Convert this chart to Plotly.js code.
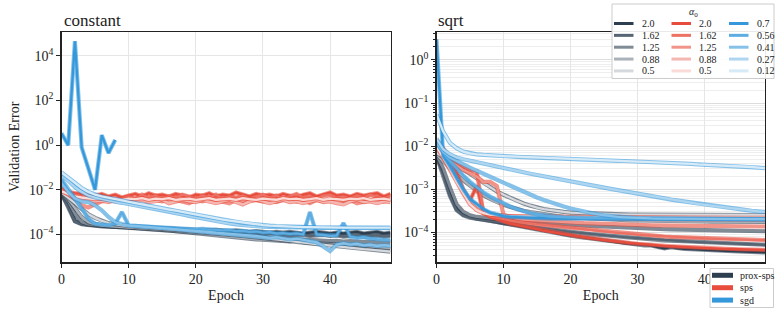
<!DOCTYPE html>
<html><head><meta charset="utf-8">
<script src="https://cdn.plot.ly/plotly-3.0.1.min.js"></script>
<style>html,body{margin:0;padding:0;background:#fff}#chart{width:779px;height:312px}</style>
</head><body><div id="chart"></div>
<script>
// ---------------- data ----------------
const epochs = [0,1,2,3,4,5,6,7,8,9,10,11,12,13,14,15,16,17,18,19,20,21,22,23,24,25,26,27,28,29,30,31,32,33,34,35,36,37,38,39,40,41,42,43,44,45,46,47,48,49];
const methodNames = ['prox-sps','sps','sgd'];
const alphasProx = ['2.0','1.62','1.25','0.88','0.5'];
const alphasSps = ['2.0','1.62','1.25','0.88','0.5'];
const alphasSgd = ['0.7','0.56','0.41','0.27','0.12'];
const panelTitles = ['constant','sqrt'];
const xTickVals = [0,10,20,30,40];
const yTickValsLeft = [1e-4,1e-2,1,1e2,1e4];
const yTickTextLeft = ['10<sup>−4</sup>','10<sup>−2</sup>','10<sup>0</sup>','10<sup>2</sup>','10<sup>4</sup>'];
const yTickValsRight = [1e-4,1e-3,1e-2,1e-1,1];
const yTickTextRight = ['10<sup>−4</sup>','10<sup>−3</sup>','10<sup>−2</sup>','10<sup>−1</sup>','10<sup>0</sup>'];

// constant schedule
const c_prox_20 = [6.5e-3,2.0e-3,4.0e-4,3.0e-4,2.7e-4,2.5e-4,2.4e-4,2.3e-4,2.2e-4,2.2e-4,
 2.1e-4,2.1e-4,2.0e-4,2.0e-4,1.9e-4,1.9e-4,1.8e-4,1.8e-4,1.7e-4,1.7e-4,
 1.6e-4,1.6e-4,1.5e-4,1.6e-4,1.5e-4,1.4e-4,1.5e-4,1.4e-4,1.3e-4,1.4e-4,
 1.3e-4,1.2e-4,1.3e-4,1.2e-4,1.3e-4,1.2e-4,1.1e-4,1.2e-4,1.3e-4,1.2e-4,
 1.1e-4,1.2e-4,1.1e-4,1.2e-4,1.3e-4,1.1e-4,1.2e-4,1.3e-4,1.1e-4,1.2e-4];
const c_prox_162 = [6.8e-3,1.8e-3,3.8e-4,2.9e-4,2.6e-4,2.4e-4,2.3e-4,2.2e-4,2.2e-4,2.1e-4,
 2.0e-4,2.0e-4,1.9e-4,1.9e-4,1.8e-4,1.7e-4,1.7e-4,1.6e-4,1.6e-4,1.5e-4,
 1.4e-4,1.5e-4,1.4e-4,1.3e-4,1.3e-4,1.2e-4,1.2e-4,1.1e-4,1.2e-4,1.1e-4,
 1.0e-4,1.1e-4,1.0e-4,9.5e-5,1.0e-4,9.0e-5,9.5e-5,8.5e-5,9.0e-5,9.5e-5,
 8.5e-5,9.0e-5,8.0e-5,8.5e-5,9.0e-5,8.0e-5,8.5e-5,9.0e-5,8.0e-5,8.5e-5];
const c_prox_125 = [7.0e-3,3.0e-3,8.0e-4,3.5e-4,2.8e-4,2.5e-4,2.4e-4,2.3e-4,2.2e-4,2.1e-4,
 2.0e-4,1.9e-4,1.9e-4,1.8e-4,1.7e-4,1.6e-4,1.5e-4,1.5e-4,1.4e-4,1.3e-4,
 1.2e-4,1.2e-4,1.1e-4,1.05e-4,1.0e-4,9.5e-5,9.0e-5,8.5e-5,8.0e-5,7.8e-5,
 7.5e-5,7.0e-5,6.8e-5,6.5e-5,7.0e-5,6.0e-5,5.8e-5,5.5e-5,5.7e-5,5.3e-5,
 5.0e-5,5.2e-5,4.8e-5,5.0e-5,4.7e-5,4.5e-5,4.8e-5,4.4e-5,4.6e-5,4.3e-5];
const c_prox_088 = [7.2e-3,3.8e-3,1.5e-3,6.0e-4,3.5e-4,2.8e-4,2.5e-4,2.4e-4,2.3e-4,2.2e-4,
 2.1e-4,2.0e-4,1.9e-4,1.8e-4,1.7e-4,1.6e-4,1.5e-4,1.4e-4,1.3e-4,1.2e-4,
 1.1e-4,1.0e-4,9.5e-5,9.0e-5,8.5e-5,7.8e-5,7.5e-5,7.0e-5,6.5e-5,6.0e-5,
 5.8e-5,5.5e-5,5.2e-5,5.0e-5,4.8e-5,5.5e-5,4.5e-5,4.2e-5,4.0e-5,3.8e-5,
 3.6e-5,3.5e-5,3.3e-5,3.2e-5,3.1e-5,3.0e-5,2.8e-5,2.7e-5,2.6e-5,2.5e-5];
const c_prox_05 = [7.5e-3,4.5e-3,2.5e-3,1.4e-3,8.0e-4,5.5e-4,4.0e-4,3.2e-4,2.8e-4,2.5e-4,
 2.3e-4,2.2e-4,2.1e-4,2.0e-4,1.9e-4,1.8e-4,1.7e-4,1.6e-4,1.5e-4,1.4e-4,
 1.3e-4,1.2e-4,1.15e-4,1.1e-4,1.0e-4,9.5e-5,9.0e-5,8.5e-5,8.0e-5,7.5e-5,
 7.0e-5,6.5e-5,6.0e-5,5.5e-5,5.0e-5,4.6e-5,4.3e-5,4.0e-5,3.7e-5,3.4e-5,
 3.2e-5,3.0e-5,2.8e-5,2.6e-5,2.4e-5,2.2e-5,2.1e-5,2.0e-5,1.8e-5,1.7e-5];

const c_sps_20 = [1.1e-2,8.0e-3,7.0e-3,6.5e-3,6.0e-3,5.5e-3,6.5e-3,5.0e-3,6.0e-3,4.5e-3,
 5.5e-3,6.5e-3,5.0e-3,7.0e-3,5.5e-3,6.0e-3,5.0e-3,6.5e-3,5.5e-3,4.5e-3,
 6.0e-3,5.5e-3,7.0e-3,5.0e-3,6.0e-3,5.5e-3,7.5e-3,6.0e-3,5.0e-3,6.5e-3,
 5.5e-3,6.0e-3,5.0e-3,6.5e-3,5.5e-3,4.5e-3,6.0e-3,7.0e-3,5.0e-3,6.0e-3,
 7.5e-3,5.5e-3,6.0e-3,5.0e-3,6.5e-3,5.5e-3,6.0e-3,7.0e-3,5.0e-3,6.5e-3];
const c_sps_162 = [1.2e-2,7.0e-3,6.0e-3,5.0e-3,5.5e-3,4.0e-3,5.0e-3,4.5e-3,3.5e-3,4.0e-3,
 5.0e-3,4.0e-3,6.0e-3,4.5e-3,5.5e-3,4.0e-3,5.0e-3,4.5e-3,6.0e-3,5.0e-3,
 4.0e-3,5.5e-3,4.5e-3,6.0e-3,4.0e-3,5.0e-3,4.5e-3,5.5e-3,4.0e-3,5.0e-3,
 6.0e-3,4.5e-3,5.5e-3,4.0e-3,5.0e-3,6.5e-3,4.5e-3,5.0e-3,4.0e-3,5.5e-3,
 6.0e-3,4.5e-3,5.0e-3,4.0e-3,5.5e-3,4.5e-3,6.0e-3,5.0e-3,4.0e-3,5.5e-3];
const c_sps_125 = [1.0e-2,6.0e-3,4.0e-3,2.0e-3,1.6e-3,2.2e-3,3.0e-3,3.5e-3,3.0e-3,3.5e-3,
 2.8e-3,3.5e-3,4.0e-3,3.0e-3,3.5e-3,3.0e-3,4.0e-3,3.5e-3,3.0e-3,2.5e-3,
 3.5e-3,3.0e-3,4.0e-3,3.5e-3,3.0e-3,2.5e-3,3.5e-3,3.0e-3,4.0e-3,3.5e-3,
 3.0e-3,3.5e-3,2.8e-3,3.5e-3,4.0e-3,3.0e-3,3.5e-3,2.5e-3,3.5e-3,3.0e-3,
 3.5e-3,4.0e-3,3.0e-3,3.5e-3,2.5e-3,3.0e-3,3.5e-3,4.0e-3,3.0e-3,3.5e-3];
const c_sps_088 = [9.0e-3,6.0e-3,4.5e-3,3.5e-3,3.5e-3,3.0e-3,3.2e-3,2.8e-3,3.5e-3,3.0e-3,
 2.5e-3,3.0e-3,3.5e-3,2.8e-3,3.0e-3,3.5e-3,2.5e-3,3.0e-3,3.5e-3,3.0e-3,
 2.8e-3,3.5e-3,3.0e-3,2.5e-3,3.0e-3,3.5e-3,2.8e-3,2.2e-3,3.0e-3,3.5e-3,
 3.0e-3,2.5e-3,3.0e-3,3.5e-3,2.8e-3,3.0e-3,2.5e-3,3.0e-3,3.5e-3,2.8e-3,
 3.0e-3,2.5e-3,2.2e-3,3.0e-3,3.5e-3,2.8e-3,3.0e-3,2.5e-3,3.0e-3,2.8e-3];
const c_sps_05 = [8.5e-3,6.5e-3,5.0e-3,4.5e-3,4.0e-3,3.8e-3,4.0e-3,3.5e-3,4.0e-3,3.5e-3,
 4.0e-3,3.8e-3,4.2e-3,3.5e-3,4.0e-3,3.8e-3,4.2e-3,3.5e-3,3.8e-3,4.0e-3,
 3.5e-3,3.8e-3,4.2e-3,3.5e-3,3.8e-3,4.0e-3,3.5e-3,4.2e-3,3.8e-3,3.5e-3,
 4.0e-3,3.8e-3,3.5e-3,4.2e-3,3.8e-3,4.0e-3,3.5e-3,3.8e-3,4.2e-3,3.5e-3,
 4.0e-3,3.8e-3,3.5e-3,4.0e-3,3.8e-3,4.2e-3,3.5e-3,3.8e-3,4.0e-3,3.5e-3];

const c_sgd_07 = [3.4,1.0,4.5e4,0.8,0.09,0.01,2.8,0.44,1.7,null,
 null,null,null,null,null,null,null,null,null,null,
 null,null,null,null,null,null,null,null,null,null,
 null,null,null,null,null,null,null,null,null,null,
 null,null,null,null,null,null,null,null,null,null];
const c_sgd_056 = [3.0e-2,1.0e-2,4.0e-3,1.5e-3,5.0e-4,3.0e-4,2.8e-4,2.6e-4,3.0e-4,1.0e-3,
 2.5e-4,2.4e-4,2.3e-4,2.2e-4,2.1e-4,2.0e-4,1.9e-4,1.95e-4,1.8e-4,1.8e-4,
 1.7e-4,1.75e-4,1.6e-4,1.6e-4,1.5e-4,1.55e-4,1.4e-4,1.45e-4,1.3e-4,1.35e-4,
 1.2e-4,1.25e-4,1.1e-4,1.15e-4,1.05e-4,1.1e-4,1.0e-4,1.0e-3,1.0e-4,9.5e-5,
 8.5e-5,9.0e-5,3.2e-4,8.0e-5,7.0e-5,7.5e-5,6.5e-5,6.0e-5,5.5e-5,5.5e-5];
const c_sgd_041 = [2.0e-2,8.0e-3,4.0e-3,3.0e-3,2.8e-3,2.0e-3,1.2e-3,6.0e-4,3.5e-4,2.8e-4,
 2.5e-4,2.4e-4,2.3e-4,2.1e-4,2.0e-4,1.9e-4,1.8e-4,1.75e-4,1.6e-4,1.5e-4,
 1.45e-4,1.35e-4,1.3e-4,1.2e-4,1.15e-4,1.1e-4,1.0e-4,9.5e-5,9.0e-5,8.5e-5,
 8.0e-5,7.0e-5,7.5e-5,6.5e-5,6.0e-5,6.5e-5,5.5e-5,5.0e-5,4.5e-5,3.0e-5,
 1.8e-5,3.5e-5,4.0e-5,3.5e-5,3.8e-5,3.2e-5,3.5e-5,3.0e-5,3.3e-5,3.0e-5];
const c_sgd_027 = [5.0e-2,2.5e-2,1.3e-2,8.0e-3,5.5e-3,4.5e-3,3.8e-3,3.3e-3,2.9e-3,2.6e-3,
 2.3e-3,2.0e-3,1.8e-3,1.6e-3,1.4e-3,1.2e-3,1.05e-3,9.0e-4,7.8e-4,6.7e-4,
 5.8e-4,5.0e-4,4.4e-4,3.9e-4,3.5e-4,3.1e-4,2.8e-4,2.6e-4,2.4e-4,2.3e-4,
 2.2e-4,2.15e-4,2.1e-4,2.05e-4,2.0e-4,2.0e-4,2.0e-4,2.0e-4,1.95e-4,1.95e-4,
 1.95e-4,1.95e-4,1.9e-4,1.9e-4,1.9e-4,1.9e-4,1.9e-4,1.9e-4,1.9e-4,1.9e-4];
const c_sgd_012 = [6.0e-2,3.5e-2,2.0e-2,1.2e-2,8.0e-3,6.0e-3,5.0e-3,4.3e-3,3.8e-3,3.3e-3,
 2.9e-3,2.5e-3,2.2e-3,1.9e-3,1.7e-3,1.5e-3,1.3e-3,1.15e-3,1.0e-3,8.8e-4,
 7.7e-4,6.7e-4,5.9e-4,5.2e-4,4.6e-4,4.1e-4,3.7e-4,3.3e-4,3.0e-4,2.8e-4,
 2.6e-4,2.45e-4,2.35e-4,2.25e-4,2.2e-4,2.15e-4,2.1e-4,2.1e-4,2.05e-4,2.05e-4,
 2.05e-4,2.05e-4,2.0e-4,2.0e-4,2.0e-4,2.0e-4,2.0e-4,2.0e-4,2.0e-4,2.0e-4];

// sqrt schedule
const s_prox_20 = [6.0e-3,2.5e-3,8.0e-4,3.5e-4,2.6e-4,2.3e-4,2.1e-4,2.0e-4,1.9e-4,1.8e-4,
 1.65e-4,1.55e-4,1.45e-4,1.35e-4,1.25e-4,1.15e-4,1.1e-4,1.05e-4,9.5e-5,9.0e-5,
 8.5e-5,8.0e-5,7.6e-5,7.2e-5,6.8e-5,6.5e-5,6.2e-5,5.9e-5,5.6e-5,5.4e-5,
 5.2e-5,5.0e-5,5.0e-5,4.6e-5,4.3e-5,4.6e-5,4.3e-5,4.2e-5,4.1e-5,4.0e-5,
 3.9e-5,3.85e-5,3.8e-5,3.75e-5,3.7e-5,3.65e-5,3.6e-5,3.55e-5,3.5e-5,3.45e-5];
const s_prox_162 = [6.0e-3,2.2e-3,7.0e-4,3.3e-4,2.5e-4,2.2e-4,2.05e-4,1.95e-4,1.85e-4,1.75e-4,
 1.65e-4,1.55e-4,1.5e-4,1.42e-4,1.35e-4,1.28e-4,1.22e-4,1.18e-4,1.12e-4,1.08e-4,
 1.03e-4,9.9e-5,9.5e-5,9.2e-5,8.9e-5,8.6e-5,8.3e-5,8.0e-5,7.8e-5,7.6e-5,
 7.4e-5,7.2e-5,7.0e-5,6.8e-5,6.6e-5,6.5e-5,6.4e-5,6.2e-5,6.1e-5,6.0e-5,
 5.9e-5,5.8e-5,5.7e-5,5.6e-5,5.5e-5,5.45e-5,5.4e-5,5.3e-5,5.25e-5,5.2e-5];
const s_prox_125 = [6.2e-3,3.0e-3,1.1e-3,4.5e-4,3.0e-4,2.5e-4,2.3e-4,2.2e-4,2.1e-4,2.0e-4,
 1.95e-4,1.9e-4,1.85e-4,1.8e-4,1.75e-4,1.7e-4,1.66e-4,1.62e-4,1.58e-4,1.55e-4,
 1.52e-4,1.49e-4,1.46e-4,1.43e-4,1.4e-4,1.37e-4,1.34e-4,1.32e-4,1.3e-4,1.28e-4,
 1.26e-4,1.24e-4,1.22e-4,1.2e-4,1.19e-4,1.18e-4,1.17e-4,1.16e-4,1.15e-4,1.14e-4,
 1.13e-4,1.12e-4,1.11e-4,1.1e-4,1.1e-4,1.09e-4,1.08e-4,1.08e-4,1.07e-4,1.07e-4];
const s_prox_088 = [6.5e-3,4.5e-3,3.0e-3,2.2e-3,1.6e-3,1.2e-3,9.0e-4,7.2e-4,6.0e-4,5.0e-4,
 4.4e-4,3.9e-4,3.5e-4,3.2e-4,3.0e-4,2.8e-4,2.65e-4,2.5e-4,2.4e-4,2.3e-4,
 2.25e-4,2.2e-4,2.15e-4,2.1e-4,2.05e-4,2.0e-4,2.0e-4,1.95e-4,1.95e-4,1.9e-4,
 1.9e-4,1.88e-4,1.86e-4,1.85e-4,1.84e-4,1.83e-4,1.82e-4,1.81e-4,1.8e-4,1.8e-4,
 1.8e-4,1.79e-4,1.79e-4,1.78e-4,1.78e-4,1.78e-4,1.77e-4,1.77e-4,1.76e-4,1.76e-4];
const s_prox_05 = [7.0e-3,5.5e-3,4.5e-3,3.6e-3,2.9e-3,2.3e-3,1.8e-3,1.4e-3,1.1e-3,9.0e-4,
 7.5e-4,6.3e-4,5.4e-4,4.7e-4,4.2e-4,3.8e-4,3.5e-4,3.3e-4,3.1e-4,3.0e-4,
 2.9e-4,2.85e-4,2.8e-4,2.75e-4,2.7e-4,2.7e-4,2.65e-4,2.65e-4,2.6e-4,2.6e-4,
 2.6e-4,2.6e-4,2.6e-4,2.6e-4,2.6e-4,2.6e-4,2.58e-4,2.58e-4,2.58e-4,2.58e-4,
 2.56e-4,2.56e-4,2.56e-4,2.56e-4,2.55e-4,2.55e-4,2.55e-4,2.55e-4,2.55e-4,2.55e-4];

const s_sps_20 = [1.4e-2,9.0e-3,5.0e-3,2.5e-3,1.0e-3,5.5e-4,1.2e-3,2.9e-4,2.3e-4,2.0e-4,
 1.8e-4,1.6e-4,1.5e-4,1.4e-4,1.3e-4,1.2e-4,1.1e-4,1.05e-4,9.8e-5,9.2e-5,
 8.7e-5,8.2e-5,7.8e-5,7.4e-5,7.0e-5,6.7e-5,6.4e-5,6.1e-5,5.9e-5,5.7e-5,
 5.5e-5,5.3e-5,5.2e-5,5.0e-5,4.9e-5,4.8e-5,4.7e-5,4.6e-5,4.5e-5,4.4e-5,
 4.35e-5,4.3e-5,4.25e-5,4.2e-5,4.15e-5,4.1e-5,4.05e-5,4.0e-5,4.0e-5,3.95e-5];
const s_sps_162 = [1.3e-2,8.0e-3,5.5e-3,4.5e-3,3.5e-3,2.8e-3,2.6e-3,2.8e-4,2.4e-4,2.2e-4,
 2.0e-4,1.9e-4,1.8e-4,1.7e-4,1.6e-4,1.55e-4,1.5e-4,1.45e-4,1.4e-4,1.35e-4,
 1.3e-4,1.25e-4,1.2e-4,1.15e-4,1.1e-4,1.06e-4,1.02e-4,9.8e-5,9.5e-5,9.2e-5,
 8.9e-5,8.7e-5,8.5e-5,8.3e-5,8.1e-5,7.9e-5,7.8e-5,7.6e-5,7.5e-5,7.4e-5,
 7.3e-5,7.2e-5,7.1e-5,7.0e-5,6.9e-5,6.9e-5,6.8e-5,6.8e-5,6.7e-5,6.7e-5];
const s_sps_125 = [1.2e-2,7.0e-3,4.5e-3,3.5e-3,2.8e-3,2.4e-3,2.0e-3,1.5e-3,1.5e-3,1.2e-3,
 2.6e-4,2.3e-4,2.1e-4,2.0e-4,1.95e-4,1.9e-4,1.85e-4,1.8e-4,1.75e-4,1.72e-4,
 1.7e-4,1.68e-4,1.65e-4,1.63e-4,1.6e-4,1.58e-4,1.56e-4,1.54e-4,1.52e-4,1.5e-4,
 1.49e-4,1.48e-4,1.47e-4,1.46e-4,1.45e-4,1.44e-4,1.43e-4,1.42e-4,1.42e-4,1.41e-4,
 1.41e-4,1.4e-4,1.4e-4,1.4e-4,1.39e-4,1.39e-4,1.39e-4,1.38e-4,1.38e-4,1.38e-4];
const s_sps_088 = [1.1e-2,6.0e-3,3.5e-3,1.8e-3,9.0e-4,5.0e-4,3.5e-4,3.0e-4,2.7e-4,2.5e-4,
 2.4e-4,2.35e-4,2.3e-4,2.3e-4,2.25e-4,2.25e-4,2.2e-4,2.2e-4,2.2e-4,2.2e-4,
 2.15e-4,2.15e-4,2.15e-4,2.12e-4,2.12e-4,2.1e-4,2.1e-4,2.1e-4,2.08e-4,2.08e-4,
 2.06e-4,2.06e-4,2.05e-4,2.05e-4,2.04e-4,2.04e-4,2.03e-4,2.03e-4,2.02e-4,2.02e-4,
 2.01e-4,2.01e-4,2.0e-4,2.0e-4,2.0e-4,1.99e-4,1.99e-4,1.98e-4,1.98e-4,1.98e-4];
const s_sps_05 = [1.0e-2,5.5e-3,3.0e-3,1.5e-3,8.0e-4,4.5e-4,3.3e-4,2.8e-4,2.6e-4,2.5e-4,
 2.45e-4,2.4e-4,2.4e-4,2.38e-4,2.36e-4,2.35e-4,2.34e-4,2.33e-4,2.32e-4,2.31e-4,
 2.3e-4,2.3e-4,2.29e-4,2.28e-4,2.28e-4,2.27e-4,2.27e-4,2.26e-4,2.26e-4,2.25e-4,
 2.25e-4,2.25e-4,2.24e-4,2.24e-4,2.24e-4,2.23e-4,2.23e-4,2.23e-4,2.22e-4,2.22e-4,
 2.22e-4,2.22e-4,2.21e-4,2.21e-4,2.21e-4,2.21e-4,2.2e-4,2.2e-4,2.2e-4,2.2e-4];

const s_sgd_07 = [3.0,6.0e-3,3.5e-3,1.8e-3,1.0e-3,6.0e-4,4.5e-4,3.5e-4,2.9e-4,2.6e-4,
 2.4e-4,2.3e-4,2.25e-4,2.2e-4,2.2e-4,2.15e-4,2.15e-4,2.1e-4,2.1e-4,2.1e-4,
 2.1e-4,2.1e-4,2.08e-4,2.08e-4,2.08e-4,2.07e-4,2.07e-4,2.07e-4,2.06e-4,2.06e-4,
 2.06e-4,2.06e-4,2.05e-4,2.05e-4,2.05e-4,2.05e-4,2.05e-4,2.04e-4,2.04e-4,2.04e-4,
 2.04e-4,2.04e-4,2.03e-4,2.03e-4,2.03e-4,2.03e-4,2.03e-4,2.02e-4,2.02e-4,2.02e-4];
const s_sgd_056 = [1.3e-2,7.0e-3,4.5e-3,3.0e-3,2.1e-3,1.5e-3,1.1e-3,8.5e-4,6.8e-4,5.6e-4,
 4.7e-4,4.0e-4,3.5e-4,3.1e-4,2.8e-4,2.6e-4,2.45e-4,2.35e-4,2.3e-4,2.25e-4,
 2.2e-4,2.18e-4,2.16e-4,2.15e-4,2.14e-4,2.13e-4,2.12e-4,2.11e-4,2.1e-4,2.1e-4,
 2.09e-4,2.09e-4,2.08e-4,2.08e-4,2.07e-4,2.07e-4,2.07e-4,2.06e-4,2.06e-4,2.06e-4,
 2.05e-4,2.05e-4,2.05e-4,2.05e-4,2.04e-4,2.04e-4,2.04e-4,2.04e-4,2.03e-4,2.03e-4];
const s_sgd_041 = [1.2e-2,7.5e-3,5.5e-3,4.5e-3,3.8e-3,3.2e-3,2.7e-3,2.3e-3,1.95e-3,1.65e-3,
 1.4e-3,1.2e-3,1.0e-3,8.7e-4,7.5e-4,6.5e-4,5.7e-4,5.0e-4,4.4e-4,4.0e-4,
 3.6e-4,3.3e-4,3.0e-4,2.8e-4,2.65e-4,2.5e-4,2.4e-4,2.3e-4,2.25e-4,2.2e-4,
 2.15e-4,2.13e-4,2.12e-4,2.11e-4,2.1e-4,2.1e-4,2.09e-4,2.09e-4,2.08e-4,2.08e-4,
 2.08e-4,2.07e-4,2.07e-4,2.07e-4,2.06e-4,2.06e-4,2.06e-4,2.05e-4,2.05e-4,2.05e-4];
const s_sgd_027 = [1.5e-2,8.5e-3,6.5e-3,5.5e-3,5.0e-3,4.6e-3,4.3e-3,4.0e-3,3.7e-3,3.4e-3,
 3.1e-3,2.9e-3,2.7e-3,2.5e-3,2.3e-3,2.15e-3,2.0e-3,1.85e-3,1.75e-3,1.65e-3,
 1.55e-3,1.45e-3,1.35e-3,1.26e-3,1.18e-3,1.1e-3,1.03e-3,9.6e-4,9.0e-4,8.5e-4,
 8.0e-4,7.5e-4,7.0e-4,6.6e-4,6.2e-4,5.8e-4,5.5e-4,5.2e-4,4.9e-4,4.6e-4,
 4.4e-4,4.2e-4,4.0e-4,3.8e-4,3.6e-4,3.5e-4,3.35e-4,3.2e-4,3.1e-4,3.0e-4];
const s_sgd_012 = [5.5e-2,2.2e-2,1.2e-2,9.0e-3,7.5e-3,6.8e-3,6.5e-3,6.3e-3,6.1e-3,6.0e-3,
 5.9e-3,5.8e-3,5.7e-3,5.6e-3,5.5e-3,5.45e-3,5.4e-3,5.3e-3,5.25e-3,5.2e-3,
 5.1e-3,5.0e-3,4.95e-3,4.9e-3,4.8e-3,4.75e-3,4.7e-3,4.6e-3,4.55e-3,4.5e-3,
 4.4e-3,4.35e-3,4.3e-3,4.2e-3,4.15e-3,4.1e-3,4.0e-3,3.95e-3,3.9e-3,3.8e-3,
 3.75e-3,3.7e-3,3.6e-3,3.55e-3,3.5e-3,3.4e-3,3.35e-3,3.3e-3,3.2e-3,3.1e-3];

// ---------------- styling ----------------
const proxShades = ['#2c3e50','#566573','#808b96','#abb2b9','#d5d8dc'];
const spsShades  = ['#e74c3c','#ec7063','#f1948a','#f5b7b1','#fadbd8'];
const sgdShades  = ['#3498db','#5dade2','#85c1e9','#aed6f1','#d6eaf8'];
const edgeColors = ['rgba(44,62,80,0.6)','rgba(231,76,60,0.6)','rgba(52,152,219,0.6)'];

const panels = [
  {ax:['x','y'], series:[[c_prox_20,c_prox_162,c_prox_125,c_prox_088,c_prox_05],
                         [c_sps_20,c_sps_162,c_sps_125,c_sps_088,c_sps_05],
                         [c_sgd_07,c_sgd_056,c_sgd_041,c_sgd_027,c_sgd_012]]},
  {ax:['x2','y2'], series:[[s_prox_20,s_prox_162,s_prox_125,s_prox_088,s_prox_05],
                          [s_sps_20,s_sps_162,s_sps_125,s_sps_088,s_sps_05],
                          [s_sgd_07,s_sgd_056,s_sgd_041,s_sgd_027,s_sgd_012]]}
];
const shadeSets = [proxShades, spsShades, sgdShades];
const alphaSets = [alphasProx, alphasSps, alphasSgd];

const traces = [];
panels.forEach(p => {
  p.series.forEach((group, m) => {
    group.forEach((ys, i) => {
      const common = {type:'scatter', mode:'lines', x:epochs, y:ys, xaxis:p.ax[0], yaxis:p.ax[1],
        showlegend:false, hoverinfo:'skip', connectgaps:false};
      traces.push(Object.assign({}, common, {line:{color:edgeColors[m], width:4.2}}));
      traces.push(Object.assign({}, common, {name:methodNames[m]+' '+alphaSets[m][i],
        line:{color:shadeSets[m][i], width:2.3}}));
    });
  });
});

const W = 779, H = 312;
const px = v => v / W, py = v => 1 - v / H;
const FONT = 'Liberation Serif';
const TXT = '#222222';
const f = size => ({family:FONT, size:size, color:TXT});

const shapes = [], annotations = [];
[[61.5, panelTitles[0]], [436.5, panelTitles[1]]].forEach(([x, t]) => {
  annotations.push({xref:'paper', yref:'paper', x:px(x), y:py(20), xanchor:'left', yanchor:'middle',
    text:t, showarrow:false, font:f(17)});
});
shapes.push({type:'rect', xref:'paper', yref:'paper', x0:px(612), x1:px(774), y0:py(78.5), y1:py(4),
  fillcolor:'rgba(255,255,255,0.9)', line:{color:'#cccccc', width:1}, layer:'above'});
annotations.push({xref:'paper', yref:'paper', x:px(693), y:py(12.5), xanchor:'center', yanchor:'middle',
  text:'<i>α</i><sub>0</sub>', showarrow:false, font:f(10)});
const colX = [614, 671.5, 729];
shadeSets.forEach((shades, c) => {
  shades.forEach((col, r) => {
    const y = 23.5 + r * 11.85;
    shapes.push({type:'line', xref:'paper', yref:'paper', x0:px(colX[c]), x1:px(colX[c] + 19.5),
      y0:py(y), y1:py(y), line:{color:col, width:3}});
    annotations.push({xref:'paper', yref:'paper', x:px(colX[c] + 25.5), y:py(y), xanchor:'left', yanchor:'middle',
      text:alphaSets[c][r], showarrow:false, font:f(10)});
  });
});
shapes.push({type:'rect', xref:'paper', yref:'paper', x0:px(710), x1:px(773.5), y0:py(307.5), y1:py(268.5),
  fillcolor:'rgba(255,255,255,0.9)', line:{color:'#cccccc', width:1}, layer:'above'});
methodNames.forEach((nm, r) => {
  const y = 275.3 + r * 12.4;
  shapes.push({type:'line', xref:'paper', yref:'paper', x0:px(712), x1:px(733), y0:py(y), y1:py(y),
    line:{color:shadeSets[r][0], width:5}});
  annotations.push({xref:'paper', yref:'paper', x:px(738), y:py(y), xanchor:'left', yanchor:'middle',
    text:nm, showarrow:false, font:f(10)});
});

const axisBase = {showline:true, mirror:true, linecolor:'#222', linewidth:1.2, ticks:'outside', ticklen:4,
  tickcolor:'#222', zeroline:false, automargin:false};
const xBase = Object.assign({}, axisBase, {range:[0,49], tickmode:'array', tickvals:xTickVals, showgrid:true,
  gridcolor:'#e6e6e6', title:{text:'Epoch', font:f(14), standoff:4}});

const layout = {
  width:W, height:H, margin:{l:0,r:0,t:0,b:0}, paper_bgcolor:'#fff', plot_bgcolor:'#fff',
  showlegend:false,
  xaxis: Object.assign({}, xBase, {domain:[px(61.5), px(390.5)], anchor:'y', tickfont:f(14)}),
  xaxis2: Object.assign({}, xBase, {domain:[px(436.5), px(765)], anchor:'y2', tickfont:f(14)}),
  yaxis: Object.assign({}, axisBase, {type:'log', domain:[1-262.3/H, 1-31.7/H], range:[-5.25,5.08], tickfont:f(14),
    tickmode:'array', tickvals:yTickValsLeft, ticktext:yTickTextLeft, showgrid:true, gridcolor:'#e6e6e6', anchor:'x',
    title:{text:'Validation Error', font:f(14), standoff:6}}),
  yaxis2: Object.assign({}, axisBase, {type:'log', domain:[1-262.3/H, 1-31.7/H], range:[-4.69,0.655], tickfont:f(14),
    tickmode:'array', tickvals:yTickValsRight, ticktext:yTickTextRight, showgrid:true, gridcolor:'#dddddd', anchor:'x2',
    minor:{dtick:'D1', showgrid:true, gridcolor:'#eeeeee', ticks:'outside', ticklen:2, tickcolor:'#222'}}),
  shapes: shapes, annotations: annotations
};

function fixFonts() {
  document.querySelectorAll('#chart svg text').forEach(t => {
    t.setAttribute('font-family', FONT);
    t.style.setProperty('font-family', '"Liberation Serif", serif', 'important');
  });
}
Plotly.newPlot('chart', traces, layout, {staticPlot:true, displayModeBar:false}).then(gd => {
  fixFonts();
  if (gd.on) gd.on('plotly_afterplot', fixFonts);
  setTimeout(fixFonts, 30);
  setTimeout(fixFonts, 200);
});
</script></body></html>
